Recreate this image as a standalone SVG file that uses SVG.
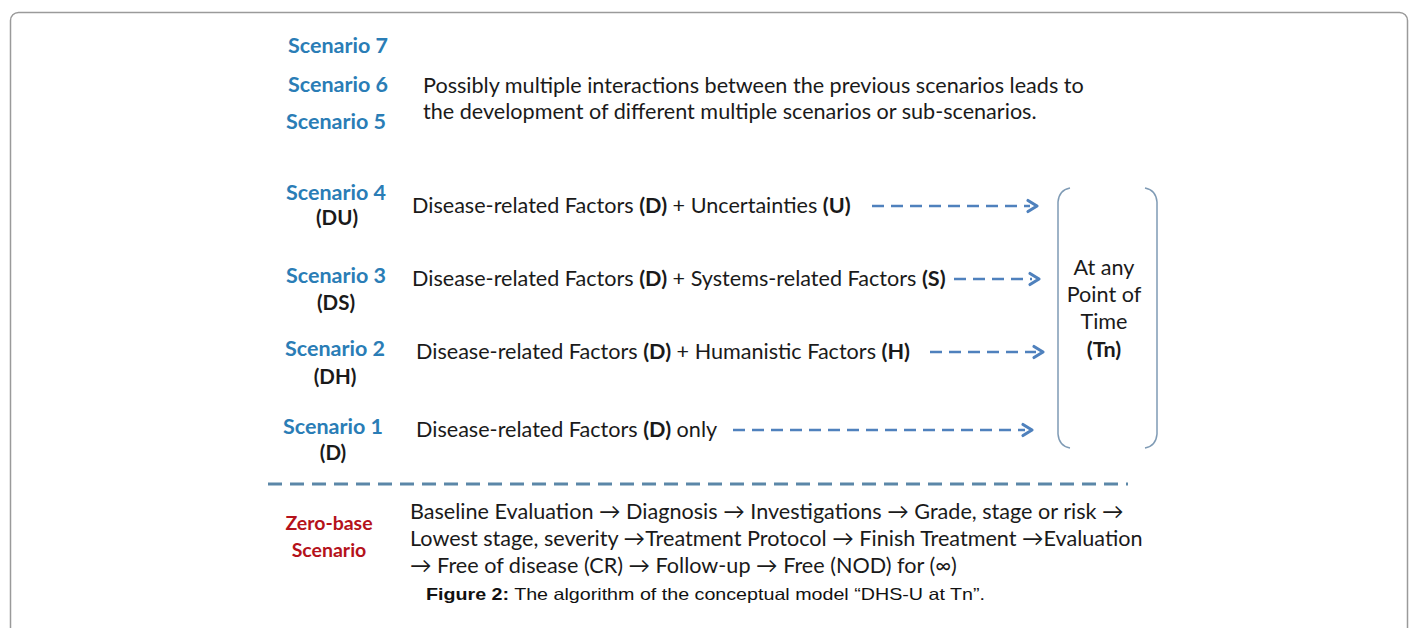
<svg xmlns="http://www.w3.org/2000/svg" width="1414" height="628" viewBox="0 0 1414 628">
<defs>
<style>
.sc{font-family:Lato,"Open Sans","Liberation Sans",sans-serif;font-weight:bold;font-size:21.5px;fill:#2a7db6;text-anchor:middle}
.lb{font-family:Lato,"Open Sans","Liberation Sans",sans-serif;font-weight:bold;font-size:20.5px;fill:#1a1a1a;text-anchor:middle}
.tx{font-family:Lato,"Open Sans","Liberation Sans",sans-serif;font-size:21.6px;fill:#1a1a1a}
.b{font-weight:bold}
.zr{font-family:Lato,"Open Sans","Liberation Sans",sans-serif;font-weight:bold;font-size:19.5px;fill:#b5121b;text-anchor:middle}
.cap{font-family:"Liberation Sans",Arial,sans-serif;font-size:16.5px;fill:#111}
.dash{stroke:#4f81bd;stroke-width:2.5;stroke-dasharray:12 7;fill:none}
.head{stroke:#4f81bd;stroke-width:3.2;fill:none;stroke-linecap:round;stroke-linejoin:round}
</style>
</defs>
<rect width="1414" height="628" fill="#fff"/>
<rect x="10.5" y="12.5" width="1397" height="650" rx="8" fill="none" stroke="#9a9a9a" stroke-width="1.5"/>

<g id="scenario7"><text class="sc" x="338" y="53">Scenario 7</text></g>
<g id="scenario6"><text class="sc" x="338" y="92">Scenario 6</text></g>
<g id="scenario5"><text class="sc" x="336" y="129">Scenario 5</text></g>
<g id="interactions">
<text class="tx" x="423" y="93">Possibly multiple interactions between the  previous scenarios leads to</text>
<text class="tx" x="423" y="119">the development of different multiple scenarios or sub-scenarios.</text>
</g>

<g id="scenario4"><text class="sc" x="336" y="200">Scenario 4</text><text class="lb" x="337" y="225">(DU)</text></g>
<g id="factors4"><text class="tx" x="412" y="213">Disease-related Factors <tspan class="b">(D)</tspan> + Uncertainties <tspan class="b">(U)</tspan></text></g>

<g id="scenario3"><text class="sc" x="336" y="283">Scenario 3</text><text class="lb" x="336" y="310">(DS)</text></g>
<g id="factors3"><text class="tx" x="412" y="286">Disease-related Factors <tspan class="b">(D)</tspan> + Systems-related Factors <tspan class="b">(S)</tspan></text></g>

<g id="scenario2"><text class="sc" x="335" y="356">Scenario 2</text><text class="lb" x="335" y="384">(DH)</text></g>
<g id="factors2"><text class="tx" x="416" y="359">Disease-related Factors <tspan class="b">(D)</tspan> + Humanistic Factors <tspan class="b">(H)</tspan></text></g>

<g id="scenario1"><text class="sc" x="333" y="434">Scenario 1</text><text class="lb" x="333" y="460">(D)</text></g>
<g id="factors1"><text class="tx" x="416" y="437">Disease-related Factors <tspan class="b">(D)</tspan> only</text></g>

<g id="timepoint">
<path d="M1070,188 Q1059,190 1058,202 L1058,434 Q1059,446 1070,448" fill="none" stroke="#7f9bb5" stroke-width="1.5"/>
<path d="M1145,188 Q1156,190 1157,202 L1157,434 Q1156,446 1145,448" fill="none" stroke="#7f9bb5" stroke-width="1.5"/>
<text class="tx" x="1104" y="275" text-anchor="middle">At any</text>
<text class="tx" x="1104" y="302" text-anchor="middle">Point of</text>
<text class="tx" x="1104" y="329" text-anchor="middle">Time</text>
<text class="tx b" x="1104" y="357" text-anchor="middle">(Tn)</text>
</g>

<g id="connectors">
<line class="dash" x1="872" y1="206" x2="1030" y2="206"/>
<polyline class="head" points="1028,200.5 1037,206 1028,211.5"/>
<line class="dash" x1="954" y1="279" x2="1032" y2="279"/>
<polyline class="head" points="1030,273.5 1039,279 1030,284.5"/>
<line class="dash" x1="930" y1="352" x2="1036" y2="352"/>
<polyline class="head" points="1034,346.5 1043,352 1034,357.5"/>
<line class="dash" x1="733" y1="430" x2="1025" y2="430"/>
<polyline class="head" points="1023,424.5 1032,430 1023,435.5"/>
<line x1="268" y1="484" x2="1128" y2="484" stroke="#5b87a8" stroke-width="3" stroke-dasharray="14 8"/>
</g>

<g id="zerobase"><text class="zr" x="329" y="530">Zero-base</text><text class="zr" x="329" y="557">Scenario</text></g>
<g id="baseline">
<text class="tx" x="410" y="519">Baseline Evaluation → Diagnosis → Investigations → Grade, stage or risk →</text>
<text class="tx" x="410" y="546">Lowest stage, severity →Treatment Protocol → Finish Treatment →Evaluation</text>
<text class="tx" x="410" y="573">→ Free of disease (CR) → Follow-up → Free (NOD) for (∞)</text>
</g>
<g id="caption"><text class="cap" x="426" y="600" textLength="559" lengthAdjust="spacingAndGlyphs"><tspan font-weight="bold">Figure 2:</tspan> The algorithm of the conceptual model “DHS-U at Tn”.</text></g>
</svg>
